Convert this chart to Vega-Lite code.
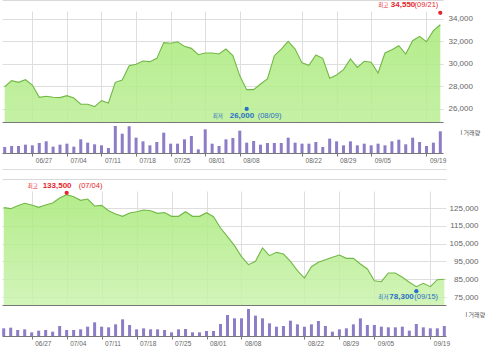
{
  "$schema": "https://vega.github.io/schema/vega-lite/v6.json",
  "padding": 0,
  "background": "white",
  "spacing": 0,
  "bounds": "flush",
  "config": {
    "view": {"stroke": null},
    "axis": {"labelFont": "Liberation Sans", "labelColor": "#666666", "gridColor": "#dedede", "domainColor": "#777777", "tickColor": "#777777", "titleFont": "Noto Sans CJK KR"}
  },
  "datasets": {
    "top": [
      {"d":"06/21","p":27980,"vol":180000},{"d":"06/22","p":28520,"vol":210000},{"d":"06/23","p":28370,"vol":210000},{"d":"06/24","p":28600,"vol":250000},
      {"d":"06/27","p":28130,"vol":230000},{"d":"06/28","p":27040,"vol":300000},{"d":"06/29","p":27130,"vol":350000},{"d":"06/30","p":27040,"vol":190000},{"d":"07/01","p":27010,"vol":250000},
      {"d":"07/04","p":27190,"vol":280000},{"d":"07/05","p":26980,"vol":190000},{"d":"07/06","p":26420,"vol":410000},{"d":"07/07","p":26420,"vol":310000},{"d":"07/08","p":26210,"vol":260000},
      {"d":"07/11","p":26740,"vol":230000},{"d":"07/12","p":26530,"vol":150000},{"d":"07/13","p":28370,"vol":810000},{"d":"07/14","p":28580,"vol":580000},{"d":"07/15","p":29850,"vol":800000},
      {"d":"07/18","p":29970,"vol":460000},{"d":"07/19","p":30270,"vol":350000},{"d":"07/20","p":30210,"vol":230000},{"d":"07/21","p":30500,"vol":330000},{"d":"07/22","p":31900,"vol":610000},
      {"d":"07/25","p":31840,"vol":280000},{"d":"07/26","p":31980,"vol":280000},{"d":"07/27","p":31570,"vol":410000},{"d":"07/28","p":31390,"vol":510000},{"d":"07/29","p":30830,"vol":110000},
      {"d":"08/01","p":30980,"vol":710000},{"d":"08/02","p":30980,"vol":280000},{"d":"08/03","p":30890,"vol":210000},{"d":"08/04","p":31330,"vol":410000},{"d":"08/05","p":30740,"vol":450000},
      {"d":"08/08","p":28950,"vol":670000},{"d":"08/09","p":27720,"vol":310000},{"d":"08/10","p":27720,"vol":360000},{"d":"08/11","p":28220,"vol":250000},{"d":"08/12","p":28670,"vol":300000},
      {"d":"08/16","p":30740,"vol":300000},{"d":"08/17","p":31330,"vol":300000},{"d":"08/18","p":32010,"vol":460000},{"d":"08/19","p":31330,"vol":310000},
      {"d":"08/22","p":30100,"vol":280000},{"d":"08/23","p":29880,"vol":280000},{"d":"08/24","p":30800,"vol":330000},{"d":"08/25","p":30500,"vol":180000},{"d":"08/26","p":28730,"vol":430000},
      {"d":"08/29","p":29020,"vol":350000},{"d":"08/30","p":29500,"vol":230000},{"d":"08/31","p":30450,"vol":350000},{"d":"09/01","p":29700,"vol":230000},{"d":"09/02","p":30240,"vol":280000},
      {"d":"09/05","p":30150,"vol":230000},{"d":"09/06","p":29200,"vol":280000},{"d":"09/07","p":30980,"vol":230000},{"d":"09/08","p":31270,"vol":350000},{"d":"09/09","p":31630,"vol":400000},
      {"d":"09/14","p":30890,"vol":260000},{"d":"09/15","p":32070,"vol":460000},{"d":"09/16","p":32460,"vol":330000},
      {"d":"09/19","p":31980,"vol":210000},{"d":"09/20","p":32960,"vol":310000},{"d":"09/21","p":33490,"vol":650000}
    ],
    "bot": [
      {"d":"06/21","p":125190,"vol":230000},{"d":"06/22","p":124630,"vol":250000},{"d":"06/23","p":126310,"vol":180000},{"d":"06/24","p":127620,"vol":200000},
      {"d":"06/27","p":126690,"vol":110000},{"d":"06/28","p":125380,"vol":160000},{"d":"06/29","p":126690,"vol":180000},{"d":"06/30","p":127810,"vol":130000},{"d":"07/01","p":130620,"vol":300000},
      {"d":"07/04","p":132490,"vol":180000},{"d":"07/05","p":131370,"vol":180000},{"d":"07/06","p":129310,"vol":200000},{"d":"07/07","p":130060,"vol":280000},{"d":"07/08","p":126120,"vol":410000},
      {"d":"07/11","p":126500,"vol":280000},{"d":"07/12","p":123500,"vol":260000},{"d":"07/13","p":121630,"vol":350000},{"d":"07/14","p":120320,"vol":500000},{"d":"07/15","p":122190,"vol":330000},
      {"d":"07/18","p":122940,"vol":200000},{"d":"07/19","p":123880,"vol":230000},{"d":"07/20","p":123500,"vol":200000},{"d":"07/21","p":122000,"vol":200000},{"d":"07/22","p":122500,"vol":180000},
      {"d":"07/25","p":120320,"vol":110000},{"d":"07/26","p":120320,"vol":200000},{"d":"07/27","p":122940,"vol":210000},{"d":"07/28","p":120320,"vol":110000},{"d":"07/29","p":120320,"vol":110000},
      {"d":"08/01","p":122380,"vol":150000},{"d":"08/02","p":120130,"vol":150000},{"d":"08/03","p":113760,"vol":360000},{"d":"08/04","p":108890,"vol":630000},{"d":"08/05","p":103840,"vol":530000},
      {"d":"08/08","p":97660,"vol":530000},{"d":"08/09","p":93160,"vol":810000},{"d":"08/10","p":95040,"vol":610000},{"d":"08/11","p":102530,"vol":530000},{"d":"08/12","p":98220,"vol":380000},
      {"d":"08/16","p":100090,"vol":280000},{"d":"08/17","p":99150,"vol":300000},{"d":"08/18","p":95040,"vol":460000},{"d":"08/19","p":89790,"vol":350000},
      {"d":"08/22","p":85670,"vol":280000},{"d":"08/23","p":92000,"vol":350000},{"d":"08/24","p":94490,"vol":450000},{"d":"08/25","p":95960,"vol":300000},{"d":"08/26","p":97290,"vol":130000},
      {"d":"08/29","p":98600,"vol":200000},{"d":"08/30","p":96720,"vol":230000},{"d":"08/31","p":96720,"vol":350000},{"d":"09/01","p":93540,"vol":530000},{"d":"09/02","p":90730,"vol":330000},
      {"d":"09/05","p":84160,"vol":330000},{"d":"09/06","p":83600,"vol":280000},{"d":"09/07","p":88480,"vol":260000},{"d":"09/08","p":88480,"vol":260000},{"d":"09/09","p":86050,"vol":280000},
      {"d":"09/14","p":83260,"vol":160000},{"d":"09/15","p":80790,"vol":360000},{"d":"09/16","p":82680,"vol":260000},
      {"d":"09/19","p":80790,"vol":230000},{"d":"09/20","p":84720,"vol":230000},{"d":"09/21","p":84930,"vol":300000}
    ],
    "annTop": [
      {"d":"09/21","p":34550,"k":"max","a":"최고","n":"34,550","t":"(09/21)"},
      {"d":"08/09","p":26000,"k":"min","a":"최저","n":"26,000","t":"(08/09)"}
    ],
    "annBot": [
      {"d":"07/04","p":133500,"k":"max","a":"최고","n":"133,500","t":"(07/04)"},
      {"d":"09/15","p":78300,"k":"min","a":"최저","n":"78,300","t":"(09/15)"}
    ]
  },
  "vconcat": [
    {
      "width": 441,
      "height": 111,
      "resolve": {"axis": {"x": "independent", "y": "independent"}},
      "layer": [
        {
          "data": {"name": "top"},
          "mark": {"type": "area", "clip": true, "fillOpacity": 0.85, "color": {"gradient": "linear", "x1": 1, "y1": 0, "x2": 1, "y2": 1, "stops": [{"offset": 0, "color": "#a7e977"}, {"offset": 1, "color": "#f2fdeb"}]}},
          "encoding": {
            "x": {"field": "d", "type": "ordinal", "sort": null, "scale": {"type": "point", "padding": 0.39},
                  "axis": {"values": ["06/27","07/04","07/11","07/18","07/25","08/01","08/08","08/22","08/29","09/05","09/19"], "grid": true, "labels": false, "ticks": false, "domain": true, "title": null}},
            "y": {"field": "p", "type": "quantitative", "scale": {"domain": [24844, 34711], "nice": false, "zero": false},
                  "axis": {"orient": "right", "values": [26000, 28000, 30000, 32000, 34000], "format": ",d", "grid": true, "domain": false, "ticks": false, "labelPadding": 5, "labelFontSize": 8, "title": null}}
          }
        },
        {
          "data": {"name": "top"},
          "mark": {"type": "line", "color": "#72b846", "strokeWidth": 1.1},
          "encoding": {
            "x": {"field": "d", "type": "ordinal", "sort": null,
                  "axis": {"orient": "top", "offset": 11, "grid": false, "labels": false, "ticks": false, "domain": true, "domainColor": "#d9d9d9", "title": null}},
            "y": {"field": "p", "type": "quantitative", "axis": null}
          }
        },
        {
          "data": {"name": "annTop"},
          "transform": [{"filter": "datum.k == 'max'"}],
          "encoding": {
            "x": {"field": "d", "type": "ordinal", "sort": null, "axis": null},
            "y": {"field": "p", "type": "quantitative", "axis": null}
          },
          "layer": [
            {"mark": {"type": "circle", "size": 18, "color": "#e3262b", "opacity": 1}},
            {"mark": {"type": "text", "align": "right", "dx": -2, "dy": -8, "fontSize": 7.5, "font": "Liberation Sans", "color": "#e3262b"}, "encoding": {"text": {"field": "t"}}},
            {"mark": {"type": "text", "align": "right", "dx": -25, "dy": -8, "fontSize": 8, "fontWeight": "bold", "font": "Liberation Sans", "color": "#e3262b"}, "encoding": {"text": {"field": "n"}}},
            {"mark": {"type": "text", "align": "right", "dx": -52, "dy": -8, "fontSize": 5.5, "font": "Noto Sans CJK KR", "color": "#e3262b"}, "encoding": {"text": {"field": "a"}}}
          ]
        },
        {
          "data": {"name": "annTop"},
          "transform": [{"filter": "datum.k == 'min'"}],
          "encoding": {
            "x": {"field": "d", "type": "ordinal", "sort": null, "axis": null},
            "y": {"field": "p", "type": "quantitative", "axis": null}
          },
          "layer": [
            {"mark": {"type": "circle", "size": 18, "color": "#2a6fc6", "opacity": 1}},
            {"mark": {"type": "text", "align": "left", "dx": -34, "dy": 7, "fontSize": 5.5, "font": "Noto Sans CJK KR", "color": "#2a6fc6"}, "encoding": {"text": {"field": "a"}}},
            {"mark": {"type": "text", "align": "left", "dx": -17, "dy": 7, "fontSize": 8, "fontWeight": "bold", "font": "Liberation Sans", "color": "#2a6fc6"}, "encoding": {"text": {"field": "n"}}},
            {"mark": {"type": "text", "align": "left", "dx": 11, "dy": 7, "fontSize": 7.5, "font": "Liberation Sans", "color": "#2a6fc6"}, "encoding": {"text": {"field": "t"}}}
          ]
        }
      ]
    },
    {
      "width": 441,
      "height": 31,
      "data": {"name": "top"},
      "mark": {"type": "bar", "color": "#8d7cc6", "width": 3},
      "encoding": {
        "x": {"field": "d", "type": "ordinal", "sort": null, "scale": {"type": "point", "padding": 0.39},
              "axis": {"values": ["06/27","07/04","07/11","07/18","07/25","08/01","08/08","08/22","08/29","09/05","09/19"], "labelAngle": 0, "labelAlign": "left", "labelOffset": 3, "labelFontSize": 6.5, "tickSize": 3, "labelPadding": 1, "title": null}},
        "y": {"field": "vol", "type": "quantitative", "scale": {"domain": [0, 930000]},
              "axis": {"orient": "right", "labels": false, "ticks": false, "domain": false, "grid": false, "title": "I 거래량", "titleAngle": 0, "titleAlign": "left", "titleBaseline": "middle", "titleX": 17, "titleY": 10, "titleFontSize": 6, "titleFontWeight": "normal", "titleColor": "#555555"}}
      }
    },
    {
      "width": 444,
      "height": 38,
      "data": {"name": "bot"},
      "mark": {"type": "point", "opacity": 0},
      "encoding": {
        "x": {"field": "d", "type": "ordinal", "sort": null, "scale": {"type": "point", "padding": 0.243},
              "axis": {"orient": "top", "offset": -16, "grid": false, "labels": false, "ticks": false, "domain": true, "domainColor": "#dddddd", "title": null}}
      }
    },
    {
      "width": 444,
      "height": 114,
      "resolve": {"axis": {"x": "independent", "y": "independent"}},
      "layer": [
        {
          "data": {"name": "bot"},
          "mark": {"type": "area", "clip": true, "fillOpacity": 0.85, "color": {"gradient": "linear", "x1": 1, "y1": 0, "x2": 1, "y2": 1, "stops": [{"offset": 0, "color": "#a7e977"}, {"offset": 1, "color": "#f2fdeb"}]}},
          "encoding": {
            "x": {"field": "d", "type": "ordinal", "sort": null, "scale": {"type": "point", "padding": 0.243},
                  "axis": {"values": ["06/27","07/04","07/11","07/18","07/25","08/01","08/08","08/22","08/29","09/05","09/19"], "grid": true, "labels": false, "ticks": false, "domain": true, "title": null}},
            "y": {"field": "p", "type": "quantitative", "scale": {"domain": [70506, 134551], "nice": false, "zero": false},
                  "axis": {"orient": "right", "values": [75000, 85000, 95000, 105000, 115000, 125000], "format": ",d", "grid": true, "domain": false, "ticks": false, "labelAlign": "right", "labelPadding": 32, "labelFontSize": 8, "title": null}}
          }
        },
        {
          "data": {"name": "bot"},
          "mark": {"type": "line", "color": "#72b846", "strokeWidth": 1.1},
          "encoding": {
            "x": {"field": "d", "type": "ordinal", "sort": null,
                  "axis": {"orient": "top", "offset": 12, "grid": false, "labels": false, "ticks": false, "domain": true, "domainColor": "#d9d9d9", "title": null}},
            "y": {"field": "p", "type": "quantitative", "axis": null}
          }
        },
        {
          "data": {"name": "annBot"},
          "transform": [{"filter": "datum.k == 'max'"}],
          "encoding": {
            "x": {"field": "d", "type": "ordinal", "sort": null, "axis": null},
            "y": {"field": "p", "type": "quantitative", "axis": null}
          },
          "layer": [
            {"mark": {"type": "circle", "size": 18, "color": "#e3262b", "opacity": 1}},
            {"mark": {"type": "text", "align": "left", "dx": -39, "dy": -7, "fontSize": 5.5, "font": "Noto Sans CJK KR", "color": "#e3262b"}, "encoding": {"text": {"field": "a"}}},
            {"mark": {"type": "text", "align": "left", "dx": -24, "dy": -7, "fontSize": 8, "fontWeight": "bold", "font": "Liberation Sans", "color": "#e3262b"}, "encoding": {"text": {"field": "n"}}},
            {"mark": {"type": "text", "align": "left", "dx": 12, "dy": -7, "fontSize": 7.5, "font": "Liberation Sans", "color": "#e3262b"}, "encoding": {"text": {"field": "t"}}}
          ]
        },
        {
          "data": {"name": "annBot"},
          "transform": [{"filter": "datum.k == 'min'"}],
          "encoding": {
            "x": {"field": "d", "type": "ordinal", "sort": null, "axis": null},
            "y": {"field": "p", "type": "quantitative", "axis": null}
          },
          "layer": [
            {"mark": {"type": "circle", "size": 18, "color": "#2a6fc6", "opacity": 1}},
            {"mark": {"type": "text", "align": "left", "dx": -38, "dy": 6, "fontSize": 5.5, "font": "Noto Sans CJK KR", "color": "#2a6fc6"}, "encoding": {"text": {"field": "a"}}},
            {"mark": {"type": "text", "align": "left", "dx": -27, "dy": 6, "fontSize": 8, "fontWeight": "bold", "font": "Liberation Sans", "color": "#2a6fc6"}, "encoding": {"text": {"field": "n"}}},
            {"mark": {"type": "text", "align": "left", "dx": -2, "dy": 6, "fontSize": 7.5, "font": "Liberation Sans", "color": "#2a6fc6"}, "encoding": {"text": {"field": "t"}}}
          ]
        }
      ]
    },
    {
      "width": 444,
      "height": 31,
      "data": {"name": "bot"},
      "mark": {"type": "bar", "color": "#8d7cc6", "width": 3},
      "encoding": {
        "x": {"field": "d", "type": "ordinal", "sort": null, "scale": {"type": "point", "padding": 0.243},
              "axis": {"values": ["06/27","07/04","07/11","07/18","07/25","08/01","08/08","08/22","08/29","09/05","09/19"], "labelAngle": 0, "labelAlign": "left", "labelOffset": 3, "labelFontSize": 6.5, "tickSize": 3, "labelPadding": 1, "title": null}},
        "y": {"field": "vol", "type": "quantitative", "scale": {"domain": [0, 930000]},
              "axis": {"orient": "right", "labels": false, "ticks": false, "domain": false, "grid": false, "title": "I 거래량", "titleAngle": 0, "titleAlign": "left", "titleBaseline": "middle", "titleX": 19, "titleY": 9, "titleFontSize": 6, "titleFontWeight": "normal", "titleColor": "#555555"}}
      }
    }
  ]
}
